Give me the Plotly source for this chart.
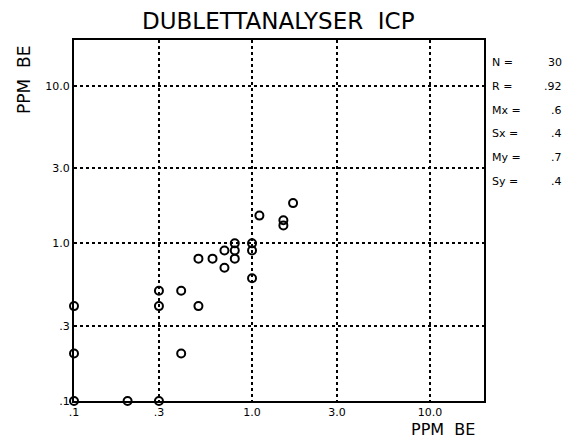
import plotly.graph_objects as go

# Data (PPM BE)
x_vals = [1.7, 1.1, 1.5, 1.5, 0.8, 1.0, 0.7, 0.8, 1.0, 0.5, 0.6, 0.8, 0.7, 1.0,
          0.3, 0.4, 0.3, 0.5, 0.4, 0.1, 0.1, 0.2, 0.3, 0.1]
y_vals = [1.8, 1.5, 1.4, 1.3, 1.0, 1.0, 0.9, 0.9, 0.9, 0.8, 0.8, 0.8, 0.7, 0.6,
          0.5, 0.5, 0.4, 0.4, 0.2, 0.4, 0.2, 0.1, 0.1, 0.1]

tick_vals = [0.1, 0.3, 1.0, 3.0, 10.0]
tick_text = [".1", ".3", "1.0", "3.0", "10.0"]

stat_labels = ["N =", "R =", "Mx =", "Sx =", "My =", "Sy ="]
stat_values = ["30", ".92", ".6", ".4", ".7", ".4"]

title_text = "DUBLETTANALYSER  ICP"
axis_title = "PPM  BE"

font_family = "DejaVu Sans"

# page body adds an 8px offset; compensate so the picture lands where wanted
OFF = 8
W, H = 584, 440
L, T, PW, PH = 74 - OFF, 40 - OFF, 410, 361
R = W - L - PW
B = H - T - PH


def px(xt):
    return (xt - OFF - L) / PW


def py(yt):
    return (H - (yt - OFF) - B) / PH


fig = go.Figure()
fig.add_trace(go.Scatter(
    x=x_vals, y=y_vals, mode="markers",
    marker=dict(symbol="circle-open", size=8, color="black", line=dict(width=2, color="black")),
    cliponaxis=False, showlegend=False,
))

axis_common = dict(
    type="log", tickvals=tick_vals, ticktext=tick_text,
    showgrid=True, gridcolor="black", gridwidth=1.5, griddash="dot",
    showline=True, linecolor="black", linewidth=2, mirror=True,
    ticks="", zeroline=False,
    tickfont=dict(family=font_family, size=11, color="black"),
)

fig.update_layout(
    width=W, height=H,
    margin=dict(l=L, r=R, t=T, b=B),
    paper_bgcolor="white", plot_bgcolor="white",
    xaxis=dict(range=[-1, 1.303], ticklabelstandoff=0, **axis_common),
    yaxis=dict(range=[-1, 1.29], ticklabelstandoff=0, **axis_common),
    showlegend=False,
)

fig.add_annotation(text=title_text, xref="paper", yref="paper",
                   x=px(278), y=py(21), borderpad=0,
                   xanchor="center", yanchor="middle", showarrow=False,
                   font=dict(family=font_family, size=23, color="black"))
fig.add_annotation(text=axis_title, xref="paper", yref="paper",
                   x=px(443), y=py(429), borderpad=0,
                   xanchor="center", yanchor="middle", showarrow=False,
                   font=dict(family=font_family, size=16, color="black"))
fig.add_annotation(text=axis_title, xref="paper", yref="paper",
                   x=px(24), y=py(80), textangle=-90,
                   xanchor="center", yanchor="middle", showarrow=False,
                   font=dict(family=font_family, size=17, color="black"))

for i, (lab, val) in enumerate(zip(stat_labels, stat_values)):
    yp = py(63 + i * 23.6)
    fig.add_annotation(text=lab, xref="paper", yref="paper",
                       x=px(490), y=yp, xanchor="left", yanchor="middle",
                       showarrow=False, font=dict(family=font_family, size=11, color="black"))
    fig.add_annotation(text=val, xref="paper", yref="paper",
                       x=px(564), y=yp, xanchor="right", yanchor="middle",
                       showarrow=False, font=dict(family=font_family, size=11, color="black"))

fig.write_html("out.html")
